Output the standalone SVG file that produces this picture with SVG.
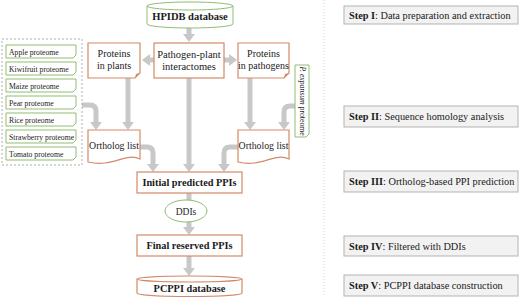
<svg xmlns="http://www.w3.org/2000/svg" width="520" height="299" viewBox="0 0 520 299">
<defs>
<style>
.t{font-family:"Liberation Serif","Times New Roman",serif;fill:#1a1a1a}
.b{font-weight:bold}
.o{fill:#fff;stroke:#d38a68;stroke-width:1.2}
.g{fill:#fff;stroke:#8fbd73;stroke-width:1}
.arr{fill:none;stroke:#c8c8c8;stroke-width:5;marker-end:url(#ah)}
.step{fill:#f2f2f2;stroke:#b3b3b3;stroke-width:1}
.pl{font-size:7.7px}
</style>
<marker id="ah" viewBox="0 0 8 12" refX="1" refY="6" markerWidth="8" markerHeight="12" markerUnits="userSpaceOnUse" orient="auto">
<path d="M0,0 L8,6 L0,12 Z" fill="#c8c8c8"/>
</marker>
</defs>

<g id="connectors">
<path class="arr" d="M189,28 V35"/>
<path class="arr" d="M154,60 H149"/>
<path class="arr" d="M224,60 H230"/>
<path class="arr" d="M128,78 V123"/>
<path class="arr" d="M250,78 V123"/>
<path class="arr" d="M82,105 H90 Q96,105 96,111 V123"/>
<path class="arr" d="M295,106 H290 Q284,106 284,112 V123"/>
<path class="arr" d="M189,78 V165"/>
<path class="arr" d="M140,147 H147 Q153,147 153,153 V165"/>
<path class="arr" d="M238,147 H230 Q224,147 224,153 V165"/>
<path class="arr" d="M189,193 V228"/>
<path class="arr" d="M189,256 V269"/>
</g>

<g id="hpidb">
<path class="g" d="M147,6 V24 A43,4 0 0 0 233,24 V6"/>
<ellipse class="g" cx="190" cy="6" rx="43" ry="4"/>
<text class="t b" x="190" y="20" font-size="10.5" text-anchor="middle">HPIDB database</text>
</g>

<g id="interactomes">
<rect class="o" x="154" y="43" width="70" height="35"/>
<text class="t" x="189" y="58" font-size="10.5" text-anchor="middle">Pathogen-plant</text>
<text class="t" x="189" y="70" font-size="10.5" text-anchor="middle">interactomes</text>
</g>

<g id="proteins-plants">
<path class="o" d="M88,43 H140 V73 L135,78 H88 Z"/>
<path d="M140,73 L136,74 L135,78 Z" fill="#d38a68"/>
<text class="t" x="114" y="57" font-size="10" text-anchor="middle">Proteins</text>
<text class="t" x="114" y="69" font-size="10" text-anchor="middle">in plants</text>
</g>

<g id="proteins-pathogens">
<path class="o" d="M238,43 H289 V73 L284,78 H238 Z"/>
<path d="M289,73 L285,74 L284,78 Z" fill="#d38a68"/>
<text class="t" x="263.5" y="57" font-size="10" text-anchor="middle">Proteins</text>
<text class="t" x="263.5" y="69" font-size="10" text-anchor="middle">in pathogens</text>
</g>

<g id="ortholog-left">
<path class="o" d="M88,130 H140 V159 C126,152 112,168 88,162 Z"/>
<text class="t" x="114" y="149" font-size="9.8" text-anchor="middle">Ortholog list</text>
</g>

<g id="ortholog-right">
<path class="o" d="M238,130 H289 V159 C275,152 261,168 238,162 Z"/>
<text class="t" x="263.5" y="149" font-size="9.8" text-anchor="middle">Ortholog list</text>
</g>

<g id="proteomes">
<rect x="2" y="39" width="80" height="126" fill="none" stroke="#9a9a9a" stroke-width="0.8" stroke-dasharray="2,2"/>
<path class="g" d="M6,45 H76 V55 L73,58 H6 Z"/>
<text class="t pl" x="9" y="54.5">Apple proteome</text>
<path class="g" d="M6,62 H76 V72 L73,75 H6 Z"/>
<text class="t pl" x="9" y="71.5">Kiwifruit proteome</text>
<path class="g" d="M6,79 H76 V89 L73,92 H6 Z"/>
<text class="t pl" x="9" y="88.5">Maize proteome</text>
<path class="g" d="M6,96 H76 V106 L73,109 H6 Z"/>
<text class="t pl" x="9" y="105.5">Pear proteome</text>
<path class="g" d="M6,113 H76 V123 L73,126 H6 Z"/>
<text class="t pl" x="9" y="122.5">Rice proteome</text>
<path class="g" d="M6,130 H76 V140 L73,143 H6 Z"/>
<text class="t pl" x="9" y="139.5">Strawberry proteome</text>
<path class="g" d="M6,147 H76 V157 L73,160 H6 Z"/>
<text class="t pl" x="9" y="156.5">Tomato proteome</text>
</g>

<g id="pexpansum">
<path class="g" d="M295,65 H309 V134 L306,137 H295 Z"/>
<text class="t pl" transform="translate(299.5,101) rotate(90)" text-anchor="middle"><tspan font-style="italic">P. expansum</tspan> proteome</text>
</g>

<g id="initial">
<rect class="o" x="137" y="172" width="105" height="21"/>
<text class="t b" x="189.5" y="186" font-size="10.3" text-anchor="middle">Initial predicted PPIs</text>
</g>

<g id="ddis">
<ellipse class="g" cx="186" cy="211" rx="21" ry="11"/>
<text class="t" x="186" y="214.5" font-size="9.5" text-anchor="middle">DDIs</text>
</g>

<g id="final">
<rect class="o" x="137" y="235" width="105" height="21"/>
<text class="t b" x="189.5" y="249" font-size="10.3" text-anchor="middle">Final reserved PPIs</text>
</g>

<g id="pcppi">
<path class="o" d="M137,279 V293 A52.5,3.5 0 0 0 242,293 V279"/>
<ellipse class="o" cx="189.5" cy="279" rx="52.5" ry="3"/>
<text class="t b" x="189.5" y="291.5" font-size="10.3" text-anchor="middle">PCPPI database</text>
</g>

<line x1="324" y1="0" x2="324" y2="295" stroke="#c8c8c8" stroke-width="0.8" stroke-dasharray="1,2"/>

<g id="step1">
<rect class="step" x="344" y="6" width="174" height="18"/>
<text class="t" x="349" y="18.5" font-size="10.3"><tspan class="b">Step I</tspan>: Data preparation and extraction</text>
</g>
<g id="step2">
<rect class="step" x="344" y="106" width="174" height="21"/>
<text class="t" x="349" y="120" font-size="10.3"><tspan class="b">Step II</tspan>: Sequence homology analysis</text>
</g>
<g id="step3">
<rect class="step" x="344" y="171" width="174" height="21"/>
<text class="t" x="349" y="185" font-size="10.3"><tspan class="b">Step III</tspan>: Ortholog-based PPI prediction</text>
</g>
<g id="step4">
<rect class="step" x="344" y="236" width="174" height="20"/>
<text class="t" x="349" y="249.5" font-size="10.3"><tspan class="b">Step IV</tspan>: Filtered with DDIs</text>
</g>
<g id="step5">
<rect class="step" x="344" y="275" width="174" height="21"/>
<text class="t" x="349" y="289" font-size="10.3"><tspan class="b">Step V</tspan>: PCPPI database construction</text>
</g>
</svg>
